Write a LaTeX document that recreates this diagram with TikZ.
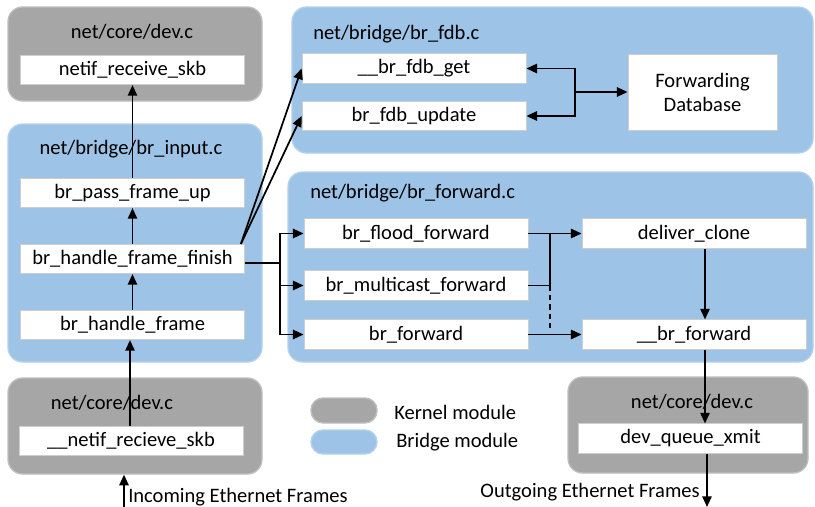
\documentclass[tikz,border=0pt]{standalone}
\usepackage{fontspec}
\setmainfont{Carlito}
\usetikzlibrary{arrows.meta,fit}
\definecolor{kgray}{RGB}{166,166,166}
\definecolor{kgrayl}{RGB}{190,190,190}
\definecolor{bblue}{RGB}{157,195,230}
\definecolor{bbluel}{RGB}{180,208,236}
\definecolor{wline}{RGB}{205,205,205}
\newcommand\fs{\fontsize{15.4}{18}\selectfont}
\tikzset{
 kbox/.style={fill=kgray, draw=kgrayl, line width=1pt, rounded corners=11pt, inner sep=0pt},
 bbox/.style={fill=bblue, draw=bbluel, line width=1pt, rounded corners=11pt, inner sep=0pt},
 fbox/.style={fill=white, draw=wline, line width=0.6pt, inner sep=0pt, font=\fs,
   minimum width=168pt, minimum height=22pt},
 ttl/.style={font=\fs, inner sep=0pt},
 arr/.style={-{Triangle[length=8pt,width=7pt]}, line width=1.3pt},
 darr/.style={{Triangle[length=8pt,width=7pt]}-{Triangle[length=8pt,width=7pt]}, line width=1.3pt},
 ln/.style={line width=1.3pt},
 pill/.style={rounded corners=9pt, line width=1pt, inner sep=0pt}
}
\begin{document}
\begin{tikzpicture}[x=0.75pt,y=-0.75pt]
\useasboundingbox (0,0) rectangle (815,507);
% containers
\node[kbox, fit={(8,7) (262,101)}] (k1) {};
\node[bbox, fit={(8,124) (262,362)}] (bin) {};
\node[kbox, fit={(8,378) (262,474)}] (k2) {};
\node[bbox, fit={(292,7) (813,153)}] (fdb) {};
\node[bbox, fit={(288,172) (813,362)}] (fwd) {};
\node[kbox, fit={(568,377) (808,473)}] (k3) {};
% titles
\node[ttl] (t1) at (132,32) {net/core/dev.c};
\node[ttl] (t2) at (131,149) {net/bridge/br\_input.c};
\node[ttl] (t3) at (112,403) {net/core/dev.c};
\node[ttl, anchor=west] (t4) at (313,34) {net/bridge/br\_fdb.c};
\node[ttl, anchor=west] (t5) at (310,193) {net/bridge/br\_forward.c};
\node[ttl] (t6) at (692,402) {net/core/dev.c};
% function boxes
\node[fbox] (nrs) at (132.5,70) {netif\_receive\_skb};
\node[fbox] (bpfu) at (132.5,193) {br\_pass\_frame\_up};
\node[fbox] (bhff) at (132.5,259) {br\_handle\_frame\_finish};
\node[fbox] (bhf) at (132.5,325) {br\_handle\_frame};
\node[fbox] (nrs2) at (131,441) {\_\_netif\_recieve\_skb};
\node[fbox] (get) at (414,68.5) {\_\_br\_fdb\_get};
\node[fbox] (upd) at (414,116) {br\_fdb\_update};
\node[fbox, minimum width=111.75pt, minimum height=57pt, align=center] (db) at (702.5,92) {Forwarding\\Database};
\node[fbox] (bff) at (416,233.5) {br\_flood\_forward};
\node[fbox] (bmf) at (416,285.5) {br\_multicast\_forward};
\node[fbox] (bf) at (416,334.5) {br\_forward};
\node[fbox] (dc) at (694,233.5) {deliver\_clone};
\node[fbox] (bfw) at (694,334.5) {\_\_br\_forward};
\node[fbox] (dqx) at (690.5,438.5) {dev\_queue\_xmit};
% legend
\node[pill, fill=kgray, draw=kgrayl, fit={(311,398) (377,423)}] (lk) {};
\node[pill, fill=bblue, draw=bbluel, fit={(311,430) (377,454)}] (lb) {};
\node[ttl, anchor=west] (lkt) at (394,412) {Kernel module};
\node[ttl, anchor=west] (lbt) at (396,442) {Bridge module};
% coordinates
\coordinate (inb) at (124,507);
\coordinate (outb) at (707,507);
\coordinate (vx) at (705,0);
\coordinate (ox) at (707,0);
\coordinate (sp) at (280,263);
\coordinate (jx) at (550,0);
\coordinate (bx) at (575,0);
\coordinate (dend) at (550,329);
% input chain
\draw[arr] (bpfu.north) -- (nrs.south);
\draw[arr] (bhff.north) -- (bpfu.south);
\draw[arr] (bhf.north) -- (bhff.south);
\draw[arr] (nrs2.north -| 130,0) -- (bhf.south -| 130,0);
\draw[arr] (inb) -- (inb |- k2.south);
\node[ttl, anchor=west] (inc) at (128,497) {Incoming Ethernet Frames};
% to fdb
\draw[arr] ([xshift=-3pt]bhff.north east) -- (get.west);
\draw[arr] ([xshift=-3pt]bhff.north east) -- (upd.west);
\draw[darr] (get.east) -| (bx |- upd.east) -- (upd.east);
\draw[arr] (bx |- db.west) -- (db.west);
% to forward
\draw[ln] (bhff.east |- sp) -- (sp);
\draw[arr] (sp) |- (bff.west);
\draw[arr] (sp) |- (bmf.west);
\draw[arr] (sp) |- (bf.west);
\draw[arr] (bff.east) -- (dc.west);
\draw[ln] (bmf.east) -| (jx |- bff.east);
\draw[ln, dashed, dash pattern=on 4pt off 3pt] (jx |- bmf.east) -- (dend);
\draw[arr] (bf.east) -- (bfw.west);
\draw[arr] (vx |- dc.south) -- (vx |- bfw.north);
\draw[arr] (vx |- bfw.south) -- (vx |- dqx.north);
\draw[arr] (ox |- dqx.south) -- (outb);
\node[ttl, anchor=east] (outt) at (700,492) {Outgoing Ethernet Frames};
\end{tikzpicture}
\end{document}
